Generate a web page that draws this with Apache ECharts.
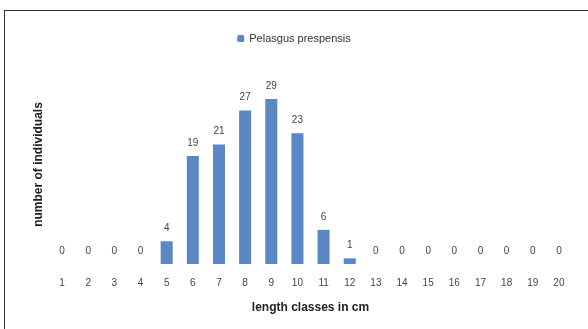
<!DOCTYPE html>
<html>
<head>
<meta charset="utf-8">
<script src="https://cdn.jsdelivr.net/npm/echarts@6/dist/echarts.min.js"></script>
<style>
  html, body { margin: 0; padding: 0; background: #fff; }
  #frame { position: absolute; left: 4px; top: 10px; width: 600px; height: 330px; border: 1.5px solid #333; box-sizing: border-box; }
  #chart { position: absolute; left: 0; top: 0; width: 588px; height: 329px; }
</style>
</head>
<body>
<div id="frame"></div>
<div id="chart"></div>
<script>
// Length classes (cm) and fish counts per class
const lengthClasses = ['1','2','3','4','5','6','7','8','9','10','11','12','13','14','15','16','17','18','19','20'];
const counts = [0,0,0,0,4,19,21,27,29,23,6,1,0,0,0,0,0,0,0,0];
const seriesName = 'Pelasgus prespensis';

const chart = echarts.init(document.getElementById('chart'));
chart.setOption({
  animation: false,
  textStyle: { fontFamily: 'Liberation Sans, Arial, sans-serif' },
  legend: {
    top: 28,
    left: 'center',
    itemWidth: 7,
    itemHeight: 7,
    itemGap: 4,
    textStyle: { fontSize: 11, color: '#333' },
    data: [seriesName]
  },
  grid: { left: 49, right: 16, top: 65, bottom: 65 },
  xAxis: {
    type: 'category',
    data: lengthClasses,
    name: 'length classes in cm',
    nameLocation: 'middle',
    nameGap: 38,
    nameTextStyle: { fontSize: 12, fontWeight: 'bold', color: '#222' },
    axisLine: { show: false },
    axisTick: { show: false },
    axisLabel: { fontSize: 10, color: '#444', margin: 14 }
  },
  yAxis: {
    type: 'value',
    min: 0,
    max: 35,
    name: 'number of individuals',
    nameLocation: 'middle',
    nameGap: 4,
    nameTextStyle: { fontSize: 12, fontWeight: 'bold', color: '#222' },
    axisLine: { show: false },
    axisTick: { show: false },
    axisLabel: { show: false },
    splitLine: { show: false }
  },
  series: [{
    name: seriesName,
    type: 'bar',
    data: counts,
    barWidth: '46%',
    itemStyle: { color: '#5b87c5' },
    label: {
      show: true,
      position: 'top',
      distance: 8,
      fontSize: 10,
      color: '#444'
    }
  }]
});
</script>
</body>
</html>
